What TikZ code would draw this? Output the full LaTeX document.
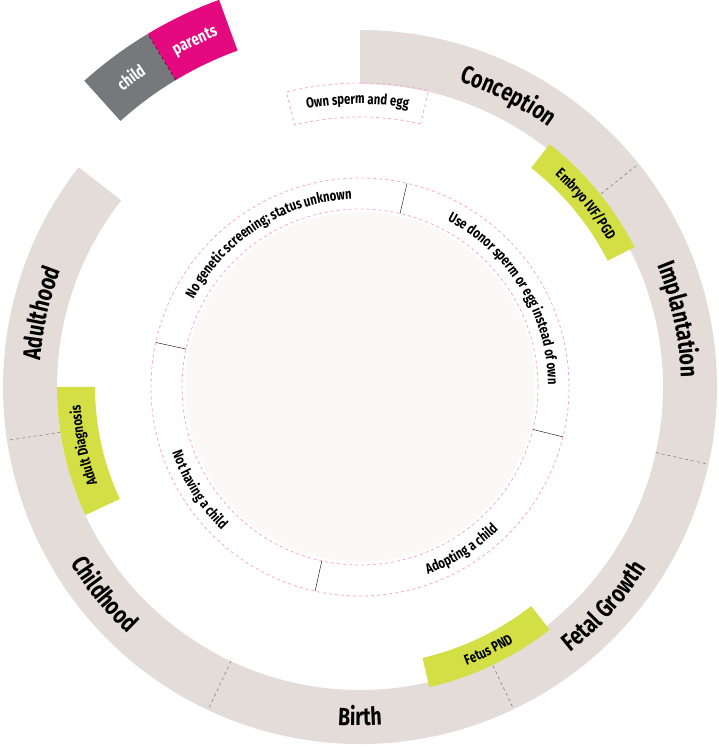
\documentclass[tikz,border=0pt]{standalone}
\usepackage{fontspec}
\setmainfont{Fira Sans}[FakeStretch=0.78]
\usetikzlibrary{decorations.text}

\definecolor{ringgray}{HTML}{E3DCD9}
\definecolor{taggreen}{HTML}{D3DF45}
\definecolor{legpink}{HTML}{E5097F}
\definecolor{leggray}{HTML}{77787B}
\definecolor{dashpink}{HTML}{F5A9C6}
\definecolor{diskfill}{HTML}{FAF9F8}

\newcommand{\sector}[5]{\path[#5] (#1:#3) arc[start angle=#1,end angle=#2,radius=#3] -- (#2:#4) arc[start angle=#2,end angle=#1,radius=#4] -- cycle;}
\newcommand{\arctext}[5]{\path[decorate,decoration={text along path,text align=center,text color=#5,text={#4}}] (#1:#3) arc[start angle=#1,end angle=#2,radius=#3];}
\newcommand{\ringfont}{\bfseries\fontsize{25}{27}\selectfont}
\newcommand{\tagfont}{\bfseries\fontsize{14.5}{16}\selectfont}
\newcommand{\legfont}{\bfseries\fontsize{17}{19}\selectfont}

\tikzset{
	ring/.style={fill=ringgray},
	tag/.style={fill=taggreen},
	divider/.style={draw=black!60,dashed,thin},
	pinkdash/.style={draw=dashpink,dashed,thick}
}

\begin{document}
\begin{tikzpicture}
	\useasboundingbox (0,0) rectangle (719pt,750pt);
	\clip (0,0) rectangle (719pt,750pt);
	\begin{scope}[shift={(360pt,363pt)}]
		% outer ring
		\sector{-64.5}{90}{303pt}{357pt}{ring}
		\sector{142}{295.5}{303pt}{357pt}{ring}
		\foreach \a in {38.7,-12.5,-64.5,244.8,188.6}
			\draw[divider] (\a:303pt) -- (\a:357pt);
		% legend
		\sector{121}{132}{358pt}{412pt}{fill=leggray}
		\sector{110}{121}{358pt}{412pt}{fill=legpink}
		\draw[black,dashed] (121:358pt) -- (121:412pt);
		\arctext{132}{121}{379pt}{|\legfont|child}{white}
		\arctext{121}{110}{379pt}{|\legfont|parents}{white}
		% green tags
		\sector{27}{52}{278pt}{308pt}{tag}
		\sector{-77}{-52}{278pt}{308pt}{tag}
		\sector{180}{205}{265pt}{303pt}{tag}
		% own sperm and egg
		\sector{77}{104}{270pt}{304pt}{pinkdash}
		% inner circles
		\fill[diskfill] (0,0) circle[radius=175pt];
		\draw[pinkdash] (0,0) circle[radius=178pt];
		\draw[pinkdash] (0,0) circle[radius=209pt];
		\foreach \a in {77,-13.8,257.6,167.7}
			\draw[black] (\a:178pt) -- (\a:209pt);
		% ring labels
		\arctext{93}{33}{321pt}{|\ringfont|Conception}{black}
		\arctext{42}{-18}{321pt}{|\ringfont|Implantation}{black}
		\arctext{-72}{-12}{339pt}{|\ringfont|Fetal Growth}{black}
		\arctext{-120}{-60}{339pt}{|\ringfont|Birth}{black}
		\arctext{189}{249}{339pt}{|\ringfont|Childhood}{black}
		\arctext{197}{137}{321pt}{|\ringfont|Adulthood}{black}
		% tag labels
		\arctext{64}{14}{288pt}{|\tagfont|Embryo IVF/PGD}{black}
		\arctext{-89}{-39}{298pt}{|\tagfont|Fetus PND}{black}
		\arctext{217}{167}{280pt}{|\tagfont|Adult Diagnosis}{black}
		\arctext{115}{66}{283pt}{|\tagfont|Own sperm and egg}{black}
		% inner labels
		\arctext{77}{-14}{188pt}{|\tagfont|Use donor sperm or egg instead of own}{black}
		\arctext{-102}{-14}{199pt}{|\tagfont|Adopting a child}{black}
		\arctext{167.7}{257.6}{199pt}{|\tagfont|Not having a child}{black}
		\arctext{167.7}{77}{188pt}{|\tagfont|No genetic screening; status unknown}{black}
	\end{scope}
\end{tikzpicture}
\end{document}
